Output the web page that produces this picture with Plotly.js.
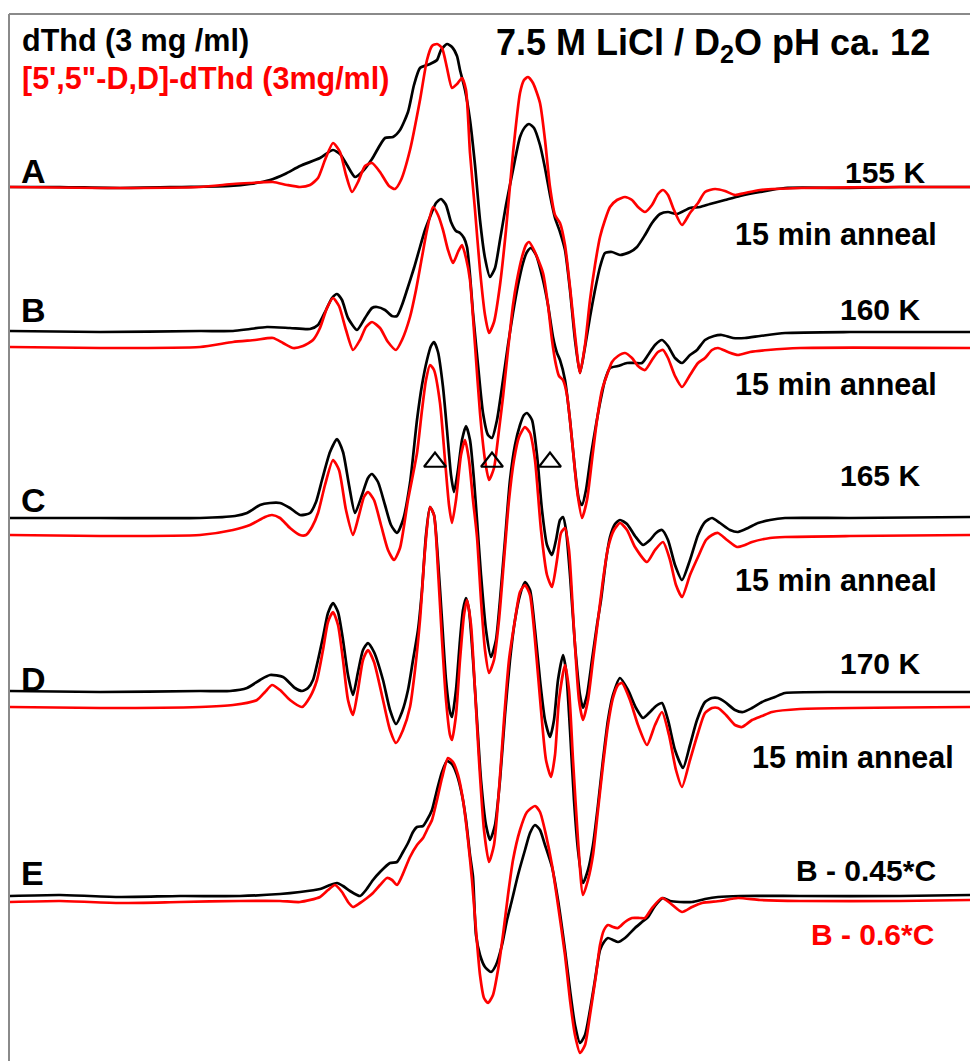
<!DOCTYPE html>
<html>
<head>
<meta charset="utf-8">
<script src="https://cdn.plot.ly/plotly-3.0.1.min.js"></script>
<style>
  html, body { margin: 0; padding: 0; background: #ffffff; }
  #plot { width: 970px; height: 1061px; }
</style>
</head>
<body>
<div id="plot"></div>
<script>
// EPR first-derivative spectra, [field, signal] pairs (arbitrary units)
// black: dThd, red: [5',5"-D,D]-dThd

const specA_dThd = [[10,0],[60,0],[120,-1],[180,0],[230,1],[250,3],[270,7],[285,13],[300,21],[320,29],[333,37],[340,33],[347,22],[355,10],[363,16],[372,28],[385,49],[393,50],[400,57],[408,75],[414,102],[420,119],[430,123],[437,127],[441,137],[447,143],[452,140],[457,131],[460,117],[465,97],[470,67],[475,22],[480,-33],[485,-71],[490,-90],[495,-81],[500,-53],[506,-18],[513,17],[520,50],[525,60],[529,63],[534,59],[540,42],[545,19],[550,-8],[555,-31],[560,-45],[565,-63],[570,-103],[575,-153],[580,-186],[585,-160],[590,-130],[595,-103],[600,-80],[605,-66],[612,-65],[620,-68],[630,-65],[637,-60],[645,-48],[652,-36],[660,-27],[668,-25],[677,-27],[690,-21],[700,-20],[710,-17],[725,-13],[740,-9],[760,-5],[785,-1],[850,-1],[900,0],[970,0]];

const specA_D2 = [[10,0],[100,-1],[200,0],[233,3],[250,4],[273,5],[287,2],[300,0],[310,2],[318,9],[325,27],[333,44],[340,35],[346,12],[352,-5],[358,5],[365,21],[372,24],[380,15],[389,1],[395,-2],[401,7],[410,37],[420,87],[427,127],[432,141],[437,143],[442,139],[447,119],[452,99],[457,103],[462,109],[466,97],[470,34],[475,-23],[480,-83],[485,-128],[489,-146],[494,-135],[500,-98],[506,-43],[513,34],[520,94],[524,107],[528,110],[533,104],[540,84],[545,47],[550,0],[555,-28],[560,-36],[565,-58],[570,-100],[575,-148],[580,-186],[585,-158],[590,-113],[595,-78],[600,-50],[605,-33],[610,-20],[617,-13],[625,-10],[632,-13],[638,-20],[645,-25],[652,-18],[658,-7],[663,-3],[668,-8],[674,-23],[682,-38],[690,-26],[698,-16],[705,-5],[715,-2],[725,-4],[735,-8],[745,-6],[760,-3],[800,-1],[900,0],[970,0]];

const specB_dThd = [[10,0],[100,-1],[200,0],[233,0],[250,2],[267,4],[290,3],[310,2],[318,6],[326,21],[332,33],[337,37],[342,31],[348,13],[357,1],[365,13],[372,23],[377,24],[385,21],[392,15],[397,15],[402,26],[407,41],[414,63],[420,84],[425,101],[430,114],[436,128],[441,132],[446,126],[451,109],[456,100],[460,98],[464,93],[467,84],[470,56],[473,18],[478,-34],[483,-82],[488,-104],[492,-107],[497,-89],[503,-49],[508,-14],[513,18],[518,46],[523,68],[527,79],[531,83],[536,76],[543,51],[548,26],[553,-6],[557,-22],[560,-29],[565,-49],[570,-89],[575,-139],[579,-169],[582,-174],[586,-159],[591,-124],[596,-94],[600,-72],[605,-49],[610,-37],[618,-35],[627,-32],[635,-32],[642,-32],[648,-24],[655,-14],[662,-9],[668,-15],[675,-27],[682,-32],[690,-24],[697,-19],[705,-9],[714,-5],[722,-4],[733,-7],[745,-7],[760,-5],[785,-2],[850,-1],[970,-1]];

const specB_D2 = [[10,0],[100,-1],[200,0],[233,5],[255,7],[273,9],[283,4],[293,-1],[303,1],[313,7],[320,19],[327,39],[333,49],[339,41],[346,17],[353,-3],[360,7],[366,20],[372,25],[380,19],[388,5],[396,-3],[402,7],[410,30],[416,57],[422,90],[427,117],[433,140],[438,132],[443,117],[448,97],[453,84],[458,95],[462,102],[466,89],[470,67],[475,2],[480,-66],[485,-113],[489,-133],[494,-121],[499,-83],[503,-50],[508,-3],[513,42],[517,67],[522,90],[526,102],[529,105],[534,97],[543,74],[548,42],[552,7],[556,-18],[559,-29],[563,-33],[567,-48],[572,-93],[577,-143],[582,-171],[587,-153],[592,-113],[597,-73],[602,-43],[607,-28],[612,-15],[618,-9],[625,-6],[632,-11],[638,-19],[645,-23],[652,-13],[658,-5],[663,-3],[668,-11],[675,-29],[682,-40],[690,-28],[698,-16],[705,-11],[712,-3],[718,-1],[728,-5],[738,-8],[750,-5],[768,-3],[800,-1],[970,-1]];

const specC_dThd = [[10,0],[100,0],[200,0],[235,2],[247,5],[260,13],[270,15],[280,15],[290,10],[300,3],[310,5],[316,16],[322,38],[330,66],[337,79],[343,66],[349,33],[355,5],[362,23],[368,40],[372,44],[378,36],[385,13],[391,-7],[397,-15],[403,-2],[410,35],[417,98],[422,133],[427,158],[431,172],[434,176],[438,166],[443,131],[447,88],[451,43],[454,26],[458,48],[462,78],[466,92],[470,78],[474,38],[477,-2],[481,-57],[486,-112],[491,-139],[496,-122],[500,-82],[505,-22],[510,38],[515,73],[520,93],[524,103],[527,105],[532,98],[537,63],[542,8],[547,-27],[552,-37],[556,-22],[560,-2],[563,1],[566,-12],[570,-57],[575,-127],[580,-177],[583,-190],[587,-177],[592,-142],[597,-107],[601,-82],[606,-42],[610,-19],[615,-6],[620,-2],[627,-6],[635,-18],[643,-27],[650,-22],[656,-15],[662,-12],[668,-22],[675,-47],[682,-62],[690,-42],[698,-17],[705,-4],[712,0],[720,-5],[730,-12],[738,-14],[748,-10],[758,-5],[770,-2],[785,0],[850,0],[970,1]];

const specC_D2 = [[10,0],[100,-1],[200,0],[233,5],[250,10],[265,18],[272,20],[280,17],[290,7],[300,0],[306,0],[312,8],[318,22],[325,50],[333,75],[339,65],[346,25],[353,0],[359,20],[364,38],[368,43],[374,35],[381,10],[388,-15],[394,-25],[400,-13],[408,35],[417,82],[422,125],[426,155],[430,170],[434,165],[440,132],[445,75],[449,30],[452,12],[456,35],[461,80],[465,95],[469,75],[473,35],[477,-2],[481,-65],[485,-115],[489,-138],[494,-125],[499,-85],[504,-25],[509,35],[514,75],[519,98],[525,108],[530,102],[535,75],[541,5],[547,-40],[552,-52],[557,-25],[561,2],[565,7],[569,-15],[574,-95],[579,-165],[583,-185],[588,-165],[593,-125],[598,-85],[603,-45],[608,-13],[614,5],[620,12],[627,5],[635,-12],[647,-27],[655,-15],[663,-7],[670,-25],[676,-50],[682,-62],[690,-40],[698,-22],[706,-5],[712,0],[718,2],[727,-5],[737,-12],[745,-10],[752,-7],[770,-3],[785,-2],[850,-1],[970,0]];

const specD_dThd = [[10,0],[100,-1],[200,0],[230,0],[247,3],[260,11],[270,16],[283,14],[295,3],[302,0],[308,3],[313,11],[318,31],[323,54],[328,78],[333,88],[338,79],[343,51],[348,16],[353,-4],[358,19],[363,41],[368,48],[374,39],[383,11],[390,-19],[396,-33],[402,-21],[408,1],[413,31],[418,61],[422,101],[426,156],[430,184],[434,176],[438,131],[442,71],[446,11],[450,-21],[452,-26],[456,1],[460,51],[463,81],[466,93],[469,81],[473,31],[477,-29],[481,-89],[486,-134],[490,-149],[495,-134],[500,-89],[505,-24],[510,31],[515,71],[520,96],[525,109],[530,101],[535,61],[540,11],[545,-29],[550,-46],[554,-29],[558,11],[563,36],[566,21],[570,-39],[574,-109],[578,-159],[583,-192],[588,-179],[593,-154],[598,-114],[603,-69],[608,-29],[613,-4],[620,13],[628,1],[636,-17],[643,-27],[650,-21],[656,-15],[662,-12],[668,-29],[675,-59],[683,-77],[690,-54],[697,-29],[705,-11],[712,-7],[718,-7],[725,-11],[735,-19],[743,-21],[752,-17],[762,-11],[775,-6],[785,-2],[850,-1],[970,-1]];

const specD_D2 = [[10,0],[100,-1],[200,0],[233,2],[257,7],[265,15],[272,22],[280,17],[290,7],[302,0],[310,10],[317,27],[323,57],[328,85],[333,95],[338,82],[343,47],[348,7],[353,-8],[358,17],[363,47],[368,57],[374,45],[383,7],[390,-23],[396,-36],[403,-23],[410,0],[415,37],[420,87],[425,157],[430,200],[434,192],[438,137],[442,67],[446,7],[450,-28],[452,-33],[456,-8],[460,47],[464,92],[467,107],[471,82],[475,17],[479,-53],[484,-123],[489,-155],[494,-138],[499,-83],[504,-13],[509,47],[515,87],[520,115],[525,122],[530,112],[535,67],[541,-3],[546,-53],[551,-70],[555,-48],[559,7],[565,42],[569,17],[573,-53],[578,-133],[583,-188],[588,-173],[593,-148],[598,-103],[603,-58],[608,-18],[613,9],[618,22],[622,24],[630,7],[638,-18],[647,-38],[655,-18],[662,-5],[669,-28],[676,-63],[682,-80],[690,-53],[698,-26],[705,-6],[712,-1],[718,-1],[726,-8],[735,-18],[742,-20],[752,-13],[762,-9],[772,-5],[800,-2],[970,0]];

const specE_dThd = [[10,0],[60,1],[120,-1],[180,0],[240,0],[280,2],[300,4],[320,7],[330,11],[337,13],[343,10],[350,5],[360,0],[366,6],[373,16],[380,24],[390,33],[397,34],[403,44],[408,53],[413,64],[417,69],[423,70],[427,76],[432,86],[437,106],[442,124],[447,135],[452,132],[457,121],[462,101],[466,76],[470,41],[473,19],[476,-39],[480,-59],[485,-71],[491,-76],[496,-69],[502,-49],[507,-24],[512,-4],[518,21],[525,46],[530,63],[535,71],[540,66],[545,51],[552,29],[558,-4],[565,-54],[570,-94],[575,-129],[580,-147],[585,-139],[590,-114],[595,-84],[600,-54],[604,-46],[608,-42],[613,-44],[618,-46],[625,-42],[635,-32],[642,-26],[648,-21],[655,-10],[663,-2],[670,-5],[680,-6],[692,-6],[705,-3],[718,-1],[740,0],[800,0],[900,0],[970,1]];

const specE_D2 = [[10,-2],[60,-1],[120,-3],[180,-2],[240,-1],[280,-1],[300,-2],[320,3],[328,10],[335,15],[342,8],[348,-2],[353,-7],[360,-3],[367,2],[373,7],[380,15],[387,22],[392,20],[397,15],[402,24],[410,43],[417,55],[423,62],[428,72],[432,80],[437,100],[442,122],[448,142],[453,138],[458,125],[463,100],[468,60],[472,20],[476,-30],[480,-75],[484,-98],[488,-103],[493,-95],[498,-70],[503,-35],[508,5],[513,40],[520,70],[527,88],[535,94],[540,88],[546,65],[552,35],[558,-5],[565,-55],[570,-100],[575,-135],[580,-153],[585,-145],[590,-115],[596,-75],[600,-45],[604,-30],[608,-25],[613,-27],[618,-28],[625,-22],[632,-18],[640,-18],[645,-18],[652,-8],[662,2],[670,-3],[682,-12],[692,-7],[702,-3],[720,-1],[738,2],[760,0],[800,-1],[900,-1],[970,0]];

// vertical stacking offset of each spectrum
const stackA = [874, 874];
const stackB = [730, 714];
const stackC = [543, 526];
const stackD = [370, 354];
const stackE = [165, 161];

const rowLetters = ['A', 'B', 'C', 'D', 'E'];
const tempLabels = ['155 K', '160 K', '165 K', '170 K'];
const markedFields = [435, 492, 550];

const FONT = 'Liberation Sans, Arial, Helvetica, sans-serif';
const BLACK = '#000000';
const RED = '#ff0000';

function trace(pairs, offset, color) {
  return {
    type: 'scatter', mode: 'lines',
    x: pairs.map(p => p[0]),
    y: pairs.map(p => p[1] + offset),
    line: { color: color, width: 2.7, shape: 'spline', smoothing: 0.6 },
    hoverinfo: 'skip', showlegend: false
  };
}

const rows = [
  [specA_dThd, specA_D2, stackA],
  [specB_dThd, specB_D2, stackB],
  [specC_dThd, specC_D2, stackC],
  [specD_dThd, specD_D2, stackD],
  [specE_dThd, specE_D2, stackE]
];

const data = [];
rows.forEach(r => {
  data.push(trace(r[0], r[2][0], BLACK));
  data.push(trace(r[1], r[2][1], RED));
});

// open triangles over the 165 K spectrum
data.push({
  type: 'scatter', mode: 'markers',
  x: markedFields,
  y: markedFields.map(() => 599),
  marker: { symbol: 'triangle-up-open', size: 19, color: BLACK, line: { width: 2.2, color: BLACK } },
  hoverinfo: 'skip', showlegend: false
});

function label(text, x, y, size, color, xanchor) {
  return {
    text: '<b>' + text + '</b>', x: x, y: y, xref: 'x', yref: 'y',
    xanchor: xanchor || 'left', yanchor: 'middle', showarrow: false,
    font: { family: FONT, size: size, color: color || BLACK }
  };
}

const annotations = [
  label('dThd (3 mg /ml)', 20, 1021, 30.5),
  label('[5\',5"-D,D]-dThd (3mg/ml)', 20, 983, 30.5, RED),
  label('7.5 M LiCl / D<sub>2</sub>O pH ca. 12', 494, 1016, 36),
  label(rowLetters[0], 19, 890, 34),
  label(rowLetters[1], 19, 751, 34),
  label(rowLetters[2], 19, 561, 34),
  label(rowLetters[3], 19, 382, 34),
  label(rowLetters[4], 19, 188, 34),
  label(tempLabels[0], 927, 889, 30, BLACK, 'right'),
  label(tempLabels[1], 922, 752, 30, BLACK, 'right'),
  label(tempLabels[2], 922, 586, 30, BLACK, 'right'),
  label(tempLabels[3], 922, 398, 30, BLACK, 'right'),
  label('15 min anneal', 733, 827, 30.5),
  label('15 min anneal', 733, 677, 30.5),
  label('15 min anneal', 733, 481, 30.5),
  label('15 min anneal', 750, 304, 30.5),
  label('B - 0.45*C', 938, 191, 30, BLACK, 'right'),
  label('B - 0.6*C', 936, 127, 30, RED, 'right')
];

const frame = { color: '#8a8a8a', width: 2 };
const shapes = [
  { type: 'line', xref: 'x', yref: 'y', x0: 9, x1: 970, y0: 1047, y1: 1047, line: frame },
  { type: 'line', xref: 'x', yref: 'y', x0: 9, x1: 9, y0: 0, y1: 1047, line: frame }
];

const layout = {
  width: 970, height: 1061,
  margin: { l: 0, r: 0, t: 0, b: 0, pad: 0 },
  paper_bgcolor: '#ffffff', plot_bgcolor: '#ffffff',
  xaxis: { range: [0, 970], visible: false, fixedrange: true },
  yaxis: { range: [0, 1061], visible: false, fixedrange: true },
  showlegend: false,
  annotations: annotations,
  shapes: shapes
};

Plotly.newPlot('plot', data, layout, { staticPlot: true, displayModeBar: false });
</script>
</body>
</html>
